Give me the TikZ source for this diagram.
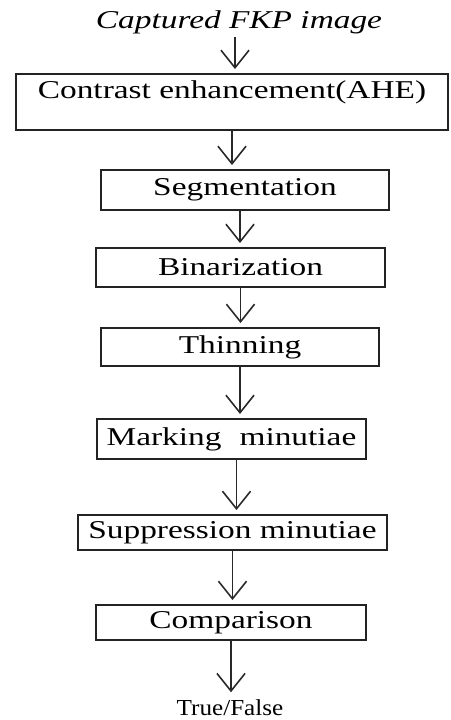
\documentclass[tikz,border=0pt]{standalone}
\usepackage{fontspec}
\setmainfont{Liberation Serif}[FakeStretch=1.3]
\newfontfamily\tffont{Liberation Serif}[FakeStretch=1.1]
\usetikzlibrary{arrows.meta}
\definecolor{BoxLine}{RGB}{35,35,35}
\definecolor{ArrowGray}{RGB}{40,40,40}

\begin{document}
\begin{tikzpicture}[x=0.01cm,y=-0.01cm,>={Straight Barb[length=5pt,width=8pt]},
    stage/.style={draw=BoxLine,line width=0.55pt,inner sep=0pt,
      font=\fontsize{7.3}{8.5}\selectfont},
    flow/.style={->,line width=0.45pt,ArrowGray,shorten >=0.04cm}]
      \useasboundingbox (0,0) rectangle (450,720);
      \node[inner sep=0.03cm,font=\itshape\fontsize{7.3}{8.5}\selectfont]
        (fkp) at (239,22) {Captured FKP image};
      \node[stage,minimum width=4.32cm,text height=0.24cm,text depth=0.32cm]
        (ahe) at (232,102) {Contrast enhancement(AHE)};
      \node[stage,minimum width=2.88cm,minimum height=0.40cm]
        (seg) at (245,190) {Segmentation};
      \node[stage,minimum width=2.89cm,minimum height=0.39cm]
        (bin) at (240.5,267.5) {Binarization};
      \node[stage,minimum width=2.78cm,minimum height=0.38cm]
        (thin) at (240,347) {Thinning};
      \node[stage,minimum width=2.69cm,minimum height=0.40cm]
        (mark) at (231.5,439) {Marking\hspace{0.18cm}minutiae};
      \node[stage,minimum width=3.09cm,minimum height=0.35cm]
        (supp) at (232.5,532.5) {Suppression minutiae};
      \node[stage,minimum width=2.70cm,minimum height=0.35cm]
        (comp) at (231,622.5) {Comparison};
      \node[inner sep=0.03cm,font=\tffont\fontsize{6.5}{7.5}\selectfont]
        (res) at (230,708) {True/False};
      \draw[flow] ([xshift=-0.04cm]fkp.south) -- ([xshift=-0.04cm]fkp.south |- ahe.north);
      \draw[flow] (ahe) -- (ahe |- seg.north);
      \draw[flow] ([xshift=-0.05cm]seg.south) -- ([xshift=-0.05cm]seg.south |- bin.north);
      \draw[flow] (bin) -- (bin |- thin.north);
      \draw[flow] (thin) -- (thin |- mark.north);
      \draw[flow] ([xshift=0.05cm]mark.south) -- ([xshift=0.05cm]mark.south |- supp.north);
      \draw[flow] (supp) -- (supp |- comp.north);
      \draw[flow] (comp) -- (comp |- res.north);
    \end{tikzpicture}
\end{document}
